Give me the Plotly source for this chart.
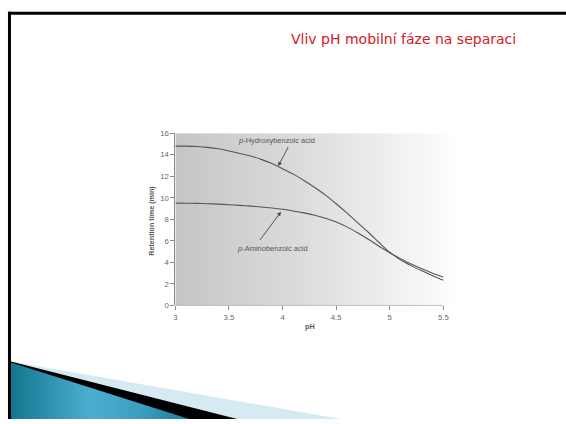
import plotly.graph_objects as go

W, H = 566, 424

# Retention time (min) versus mobile-phase pH
ph = [3.0, 3.1, 3.2, 3.3, 3.4, 3.5, 3.6, 3.7, 3.8, 3.9, 4.0, 4.1, 4.2,
      4.3, 4.4, 4.5, 4.6, 4.7, 4.8, 4.9, 5.0, 5.1, 5.2, 5.3, 5.4, 5.5]
hydroxybenzoic = [14.8, 14.8, 14.76, 14.68, 14.55, 14.35, 14.12, 13.88,
                  13.57, 13.18, 12.7, 12.2, 11.6, 10.95, 10.25, 9.45, 8.6,
                  7.7, 6.8, 5.85, 4.95, 4.25, 3.7, 3.22, 2.77, 2.35]
aminobenzoic = [9.5, 9.5, 9.48, 9.45, 9.41, 9.36, 9.3, 9.23, 9.15, 9.05,
                8.93, 8.78, 8.6, 8.38, 8.1, 7.75, 7.3, 6.75, 6.15, 5.5,
                4.9, 4.35, 3.85, 3.4, 3.0, 2.65]

x_ticks = [3, 3.5, 4, 4.5, 5, 5.5]
x_tick_labels = ["3", "3.5", "4", "4.5", "5", "5.5"]
y_ticks = [0, 2, 4, 6, 8, 10, 12, 14, 16]
y_tick_labels = ["0", "2", "4", "6", "8", "10", "12", "14", "16"]

slide_title = "Vliv pH mobilní fáze na separaci"
y_title = "Retention time (min)"
x_title = "pH"
label_hydroxy = "<i>p</i>-Hydroxybenzoic acid"
label_amino = "<i>p</i>-Aminobenzoic acid"

X_MIN, X_MAX_SHADE = 3.0, 5.65
Y_MIN, Y_MAX = 0, 16

AX_COLOR = "#8a8a8a"
TXT_COLOR = "#5a5a5a"
CHART_FONT = "Liberation Sans, Arial, sans-serif"


def px(x):
    return x / W


def py(y):
    return 1 - y / H


fig = go.Figure()

# shaded plot background fading to white
fig.add_trace(go.Scatter(
    x=[X_MIN, X_MAX_SHADE, X_MAX_SHADE, X_MIN, X_MIN],
    y=[Y_MIN, Y_MIN, Y_MAX, Y_MAX, Y_MIN],
    mode="lines", line=dict(width=0), fill="toself",
    fillgradient=dict(type="horizontal",
                      colorscale=[[0, "#c5c5c5"], [0.45, "#dcdcdc"],
                                  [0.85, "#f5f5f5"], [1, "#ffffff"]]),
    hoverinfo="skip", showlegend=False,
))

for series in (hydroxybenzoic, aminobenzoic):
    fig.add_trace(go.Scatter(
        x=ph, y=series, mode="lines",
        line=dict(color="#555555", width=1.1, shape="spline", smoothing=0.8),
        showlegend=False,
    ))

# slide decoration at the bottom-left, on a full-page overlay axis pair
deco = [
    ([8, 340, 8, 8], [365, 424, 424, 365], dict(fillcolor="#d6eaf3")),
    ([8, 236, 8, 8], [365, 424, 424, 365], dict(fillcolor="#000000")),
    ([8, 188, 8, 8], [366, 424, 424, 366],
     dict(fillgradient=dict(type="horizontal",
                            colorscale=[[0, "#127690"], [0.45, "#4cafcf"],
                                        [0.75, "#3a9dbd"], [1, "#1b7d99"]]))),
]
for xs, ys, fill_kw in deco:
    fig.add_trace(go.Scatter(
        x=xs, y=ys, xaxis="x2", yaxis="y2", mode="lines",
        line=dict(width=0), fill="toself", hoverinfo="skip",
        showlegend=False, **fill_kw,
    ))

fig.update_layout(
    width=W, height=H,
    margin=dict(l=0, r=0, t=0, b=0),
    paper_bgcolor="white", plot_bgcolor="rgba(0,0,0,0)",
    xaxis=dict(
        domain=[px(174), px(459)], range=[X_MIN, X_MAX_SHADE],
        tickvals=x_ticks, ticktext=x_tick_labels,
        ticks="outside", ticklen=4, tickcolor=AX_COLOR, tickwidth=1,
        showline=False, showgrid=False, zeroline=False,
        tickfont=dict(family=CHART_FONT, size=7.8, color="#6a6a6a"),
        anchor="y",
    ),
    yaxis=dict(
        domain=[py(308), py(132)], range=[Y_MIN, Y_MAX],
        tickvals=y_ticks, ticktext=y_tick_labels,
        ticks="outside", ticklen=4, tickcolor=AX_COLOR, tickwidth=1,
        showline=True, linecolor=AX_COLOR, linewidth=1,
        showgrid=False, zeroline=False,
        tickfont=dict(family=CHART_FONT, size=7.8, color="#6a6a6a"),
        anchor="x",
    ),
    xaxis2=dict(domain=[0, 1], range=[0, W], visible=False, anchor="y2"),
    yaxis2=dict(domain=[0, 1], range=[H, 0], visible=False, anchor="x2"),
    shapes=[
        # x axis line, stopping at the last tick
        dict(type="line", xref="x", yref="y", x0=3, x1=5.5, y0=0, y1=0,
             line=dict(color=AX_COLOR, width=1)),
        # slide frame: top and left edges
        dict(type="line", xref="paper", yref="paper",
             x0=px(6), x1=px(566), y0=py(9.5), y1=py(9.5),
             line=dict(color="black", width=3)),
        dict(type="line", xref="paper", yref="paper",
             x0=px(7.5), x1=px(7.5), y0=py(8), y1=py(424),
             line=dict(color="black", width=3)),
    ],
    annotations=[
        dict(text=slide_title, xref="paper", yref="paper",
             x=px(288), y=py(36), xanchor="left", yanchor="middle",
             showarrow=False,
             font=dict(family="DejaVu Sans, Verdana, sans-serif", size=14,
                       color="#cf2028")),
        dict(text="<b>" + y_title + "</b>", xref="paper", yref="paper",
             x=px(150), y=py(221), textangle=-90,
             xanchor="center", yanchor="middle", showarrow=False,
             font=dict(family=CHART_FONT, size=7.2, color=TXT_COLOR)),
        dict(text="<b>" + x_title + "</b>", xref="paper", yref="paper",
             x=px(309), y=py(329), xanchor="center", yanchor="middle",
             showarrow=False,
             font=dict(family=CHART_FONT, size=7.2, color=TXT_COLOR)),
        dict(text=label_hydroxy, xref="x", yref="y", x=3.94, y=15.36,
             showarrow=False,
             font=dict(family=CHART_FONT, size=7.5, color="#555555")),
        dict(text="", xref="x", yref="y", x=3.96, y=12.95,
             axref="x", ayref="y", ax=4.06, ay=14.85,
             showarrow=True, arrowhead=2, arrowsize=0.9, arrowwidth=0.9,
             arrowcolor="#444444"),
        dict(text=label_amino, xref="x", yref="y", x=3.905, y=5.27,
             showarrow=False,
             font=dict(family=CHART_FONT, size=7.5, color="#555555")),
        dict(text="", xref="x", yref="y", x=3.985, y=8.7,
             axref="x", ayref="y", ax=3.78, ay=5.95,
             showarrow=True, arrowhead=2, arrowsize=0.9, arrowwidth=0.9,
             arrowcolor="#444444"),
    ],
)

fig.write_html("out.html")
